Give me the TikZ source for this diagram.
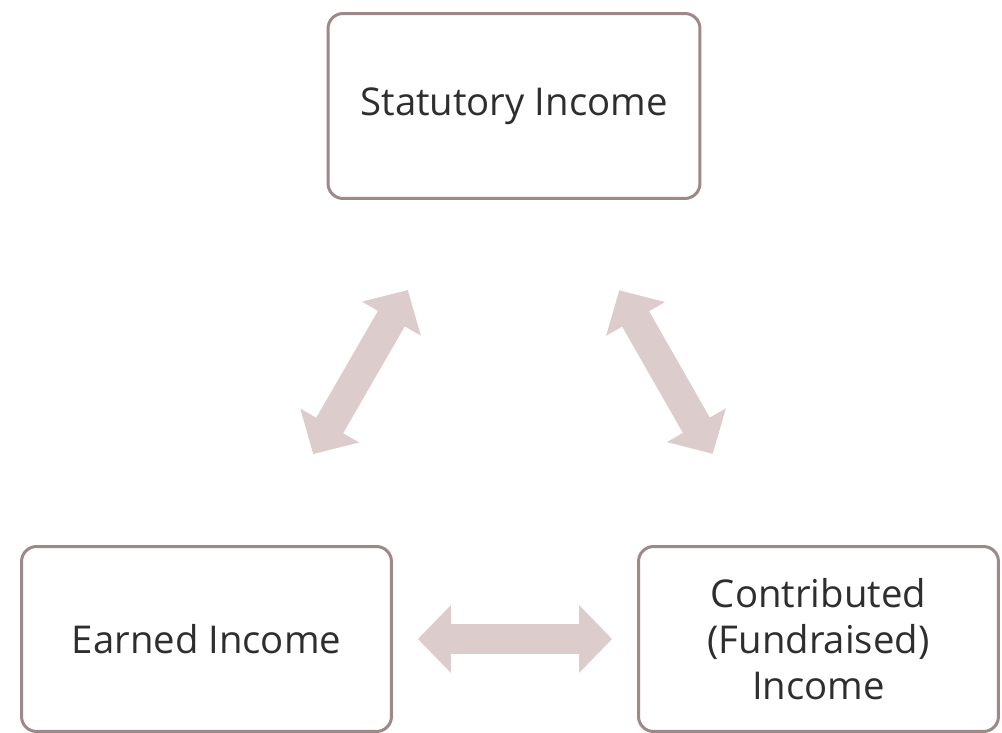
\documentclass[tikz,border=0pt]{standalone}
\usepackage{fontspec}
\setmainfont{Open Sans}
\usetikzlibrary{arrows.meta}

\definecolor{boxline}{HTML}{9E8888}
\definecolor{arrowfill}{HTML}{DCCCCB}
\definecolor{txt}{HTML}{2E2E2E}

\begin{document}
\begin{tikzpicture}[
  x=0.02cm, y=-0.02cm,
  font=\fontsize{21.8}{26}\selectfont,
  income/.style={draw=boxline, line width=0.06cm, rounded corners=0.3cm, fill=white,
    text=txt, align=center, minimum height=3.7cm},
  bigarrow/.style={draw=arrowfill, line width=0.62cm,
    {Triangle[length=0.66cm, width=1.32cm]}-{Triangle[length=0.66cm, width=1.32cm]}}
]
\useasboundingbox (0,0) rectangle (1002,733);

\node[income, minimum width=7.44cm] (stat) at (514,106) {Statutory Income};
\node[income, minimum width=7.4cm] (earned) at (206.5,639) {Earned Income};
\node[income, minimum width=7.2cm] (contrib) at (818.5,639) {Contributed\\(Fundraised)\\Income};

\draw[bigarrow, shorten <=2.08cm, shorten >=2.1cm] (stat) -- (earned);
\draw[bigarrow, shorten <=2.08cm, shorten >=2.1cm] (stat) -- (contrib);
\draw[bigarrow, shorten <=0.5cm, shorten >=0.5cm] (earned) -- (contrib);

\end{tikzpicture}
\end{document}
